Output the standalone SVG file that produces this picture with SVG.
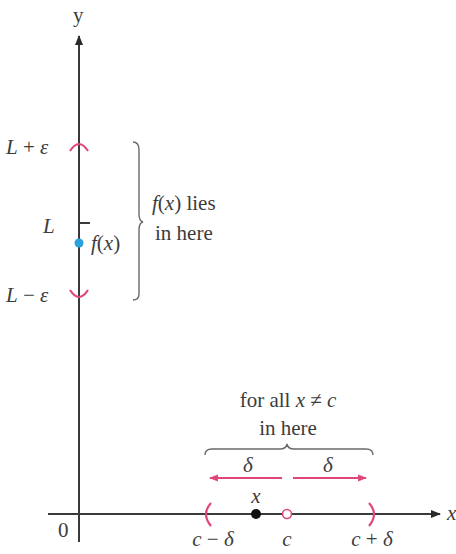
<svg xmlns="http://www.w3.org/2000/svg" width="456" height="554" viewBox="0 0 456 554">
<style>
text{font-family:"Liberation Serif","DejaVu Serif",serif;font-size:21px;fill:#3c3c3c}
.i{font-style:italic}
.ax{stroke:#3a3a3a;stroke-width:2;fill:none}
.red{stroke:#e0457b;stroke-width:2.2;fill:none}
.br{stroke:#6a6a6a;stroke-width:1.4;fill:none}
</style>
<defs>
<marker id="ah" viewBox="0 0 10 10" refX="9" refY="5" markerWidth="5" markerHeight="5" orient="auto-start-reverse"><path d="M0,1 L10,5 L0,9 Z" fill="#2a2a2a"/></marker>
<marker id="rh" viewBox="0 0 10 10" refX="9" refY="5" markerWidth="4" markerHeight="4" orient="auto-start-reverse"><path d="M0,1 L10,5 L0,9 Z" fill="#e0457b"/></marker>
</defs>
<g id="axes">
<line class="ax" x1="79" y1="542" x2="79" y2="36" marker-end="url(#ah)"/>
<line class="ax" x1="48" y1="514" x2="440" y2="514" marker-end="url(#ah)"/>
<text x="73" y="22" font-size="13">y</text>
<text x="447" y="520" class="i" font-size="14">x</text>
<text x="58" y="537" font-size="19">0</text>
</g>
<g id="connectors">
<path class="red" d="M70,151 Q79,137 88,151"/>
<path class="red" d="M70,290 Q79,304 88,290"/>
<line class="ax" x1="79" y1="223" x2="90" y2="223" stroke-width="1.5"/>
<path class="br" d="M133,142 Q139,142 139,150 L139,214 Q139,221 143,222 Q139,223 139,230 L139,294 Q139,300 133,300"/>
<path class="br" d="M205,455 Q205,449 212,449 L280,449 Q286,449 287,444 Q288,449 294,449 L366,449 Q373,449 373,455"/>
<line class="red" x1="282" y1="478" x2="210" y2="478" marker-end="url(#rh)"/>
<line class="red" x1="293" y1="478" x2="366" y2="478" marker-end="url(#rh)"/>
<path class="red" d="M211,503 Q201,514 211,526"/>
<path class="red" d="M369,503 Q379,514 369,526"/>
</g>
<g id="yaxis-labels">
<text x="6" y="154"><tspan class="i">L</tspan> + <tspan class="i">ε</tspan></text>
<text x="6" y="302"><tspan class="i">L</tspan> − <tspan class="i">ε</tspan></text>
<text x="43" y="233" class="i">L</text>
</g>
<g id="fx-point">
<circle cx="79" cy="243" r="4.5" fill="#2aa0dc"/>
<text x="91" y="250"><tspan class="i">f</tspan>(<tspan class="i">x</tspan>)</text>
</g>
<g id="fx-note">
<text x="152" y="210"><tspan class="i">f</tspan>(<tspan class="i">x</tspan>) lies</text>
<text x="155" y="240">in here</text>
</g>
<g id="x-note">
<text x="288" y="407" text-anchor="middle">for all <tspan class="i">x</tspan> ≠ <tspan class="i">c</tspan></text>
<text x="288" y="435" text-anchor="middle">in here</text>
<text x="248" y="472" text-anchor="middle" class="i">δ</text>
<text x="328" y="472" text-anchor="middle" class="i">δ</text>
</g>
<g id="x-point">
<circle cx="256" cy="514" r="5" fill="#111"/>
<text x="256" y="503" text-anchor="middle" class="i" font-size="15">x</text>
</g>
<g id="c-point">
<circle cx="287" cy="514" r="4.5" fill="#fff" stroke="#e0457b" stroke-width="1.6"/>
</g>
<g id="x-labels">
<text x="213" y="546" text-anchor="middle" font-size="20"><tspan class="i">c</tspan> − <tspan class="i">δ</tspan></text>
<text x="287" y="546" text-anchor="middle" class="i" font-size="20">c</text>
<text x="372" y="546" text-anchor="middle" font-size="20"><tspan class="i">c</tspan> + <tspan class="i">δ</tspan></text>
</g>
</svg>
